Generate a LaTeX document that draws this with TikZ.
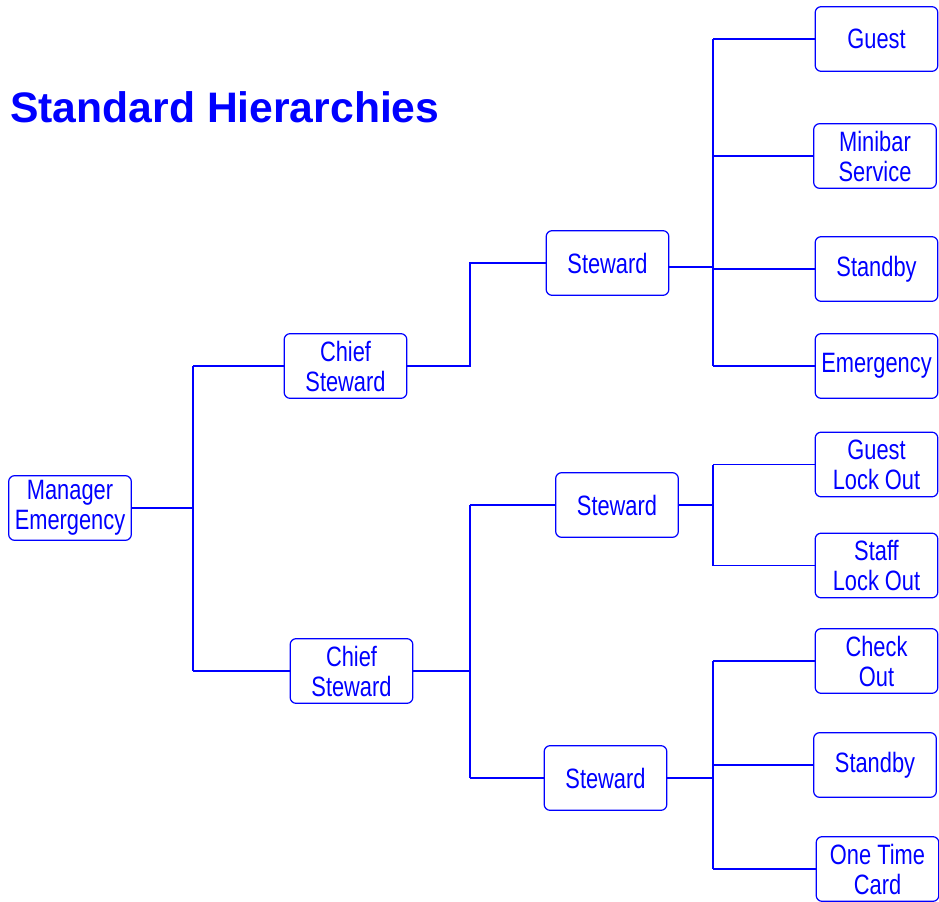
\documentclass[tikz,border=0pt]{standalone}
\usepackage{fontspec}
\setmainfont{Liberation Sans}
\newfontfamily\narrowfont[FakeStretch=0.78]{Liberation Sans}
\usepackage{tikz}

\begin{document}
\begin{tikzpicture}[x=0.75pt,y=0.75pt,yscale=-1,xscale=1,
  box/.style={draw=blue, line width=0.9pt, rounded corners=4.5pt, minimum width=92pt, minimum height=48.5pt, inner sep=0pt, align=center, text=blue, font=\narrowfont\fontsize{21}{22.5}\selectfont},
  link/.style={draw=blue, line width=1.4pt}]
\useasboundingbox (0,0) rectangle (939,902);
\node (title) at (10,107) [anchor=west, inner sep=0pt, text=blue, font=\bfseries\fontsize{32}{36}\selectfont] {Standard Hierarchies};
% boxes
\node (mgr) at (70,508) [box] {Manager\\Emergency};
\node (cs1) at (345.5,366) [box] {Chief\\Steward};
\node (cs2) at (351.5,671) [box] {Chief\\Steward};
\node (st1) at (607.5,263) [box] {Steward};
\node (st2) at (617,505) [box] {Steward};
\node (st3) at (605.5,778) [box] {Steward};
\node (guest) at (876.5,39) [box] {Guest};
\node (minibar) at (875,156) [box] {Minibar\\Service};
\node (standby1) at (876.5,269) [box] {Standby};
\node (emerg) at (876.5,366) [box] {Emergency};
\node (glock) at (876.5,464.5) [box] {Guest\\Lock Out};
\node (slock) at (876.5,565.5) [box] {Staff\\Lock Out};
\node (check) at (876.5,661) [box] {Check\\Out};
\node (standby2) at (875,765) [box] {Standby};
\node (onetime) at (877.5,869) [box] {One Time\\Card};
% junctions
\coordinate (j1) at (193,508);
\coordinate (j2) at (470,366);
\coordinate (j3) at (470,671);
\coordinate (j4) at (713,267);
\coordinate (j5) at (713,505);
\coordinate (j6) at (713,778);
% connectors
\draw[link] (mgr.east) -- (j1);
\draw[link] (j1 |- cs1.west) -- (j1 |- cs2.west);
\foreach \n in {cs1,cs2} \draw[link] (j1 |- \n.west) -- (\n.west);
\draw[link] (cs1.east) -- (j2) -- (j2 |- st1.west) -- (st1.west);
\draw[link] (cs2.east) -- (j3);
\draw[link] (j3 |- st2.west) -- (j3 |- st3.west);
\foreach \n in {st2,st3} \draw[link] (j3 |- \n.west) -- (\n.west);
\draw[link] (st1.east |- j4) -- (j4);
\draw[link] (j4 |- guest.west) -- (j4 |- emerg.west);
\foreach \n in {guest,minibar,standby1,emerg} \draw[link] (j4 |- \n.west) -- (\n.west);
\draw[link] (st2.east) -- (j5);
\draw[link] (j5 |- glock.west) -- (j5 |- slock.west);
\foreach \n in {glock,slock} \draw[link] (j5 |- \n.west) -- (\n.west);
\draw[link] (st3.east) -- (j6);
\draw[link] (j6 |- check.west) -- (j6 |- onetime.west);
\foreach \n in {check,standby2,onetime} \draw[link] (j6 |- \n.west) -- (\n.west);
\end{tikzpicture}
\end{document}
